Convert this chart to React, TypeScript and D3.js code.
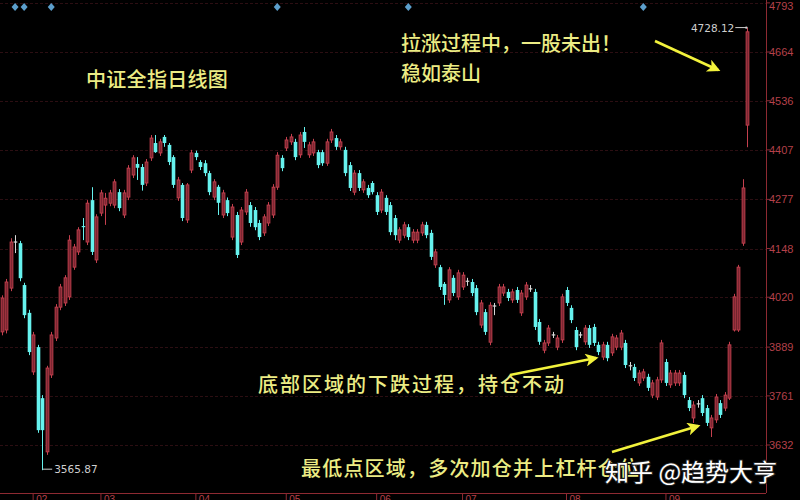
import * as d3 from "d3";

// daily OHLC, one entry per trading day
const opens = [
  3929, 3934, 4044, 4165, 4162, 4052, 3979, 3824, 3889, 3755,
  3614, 3816, 3913, 3994, 4005, 4021, 4099, 4139, 4207, 4165,
  4275, 4118, 4241, 4262, 4267, 4262, 4296, 4236, 4283, 4341,
  4370, 4362, 4320, 4386, 4425, 4399, 4441, 4420, 4388, 4281,
  4315, 4223, 4354, 4399, 4375, 4372, 4346, 4283, 4310, 4236,
  4275, 4178, 4236, 4165, 4244, 4262, 4249, 4215, 4189, 4215,
  4236, 4309, 4386, 4412, 4428, 4428, 4394, 4454, 4394, 4399,
  4401, 4401, 4372, 4433, 4438, 4415, 4407, 4367, 4296, 4346,
  4302, 4307, 4320, 4288, 4249, 4281, 4262, 4228, 4170, 4183,
  4204, 4170, 4170, 4189, 4210, 4189, 4105, 4099, 4055, 4013,
  4071, 4021, 4047, 4062, 4060, 4044, 3947, 3981, 3902, 3997,
  4005, 4031, 4034, 4013, 4039, 3979, 4021, 4042, 4034, 3955,
  3881, 3900, 3921, 3889, 3908, 4039, 3992, 3934, 3921, 3903,
  3939, 3942, 3895, 3863, 3895, 3874, 3889, 3889, 3900, 3840,
  3837, 3795, 3808, 3811, 3763, 3758, 3803, 3850, 3790, 3795,
  3795, 3816, 3750, 3703, 3740, 3755, 3729, 3677, 3698, 3742,
  3729, 3755, 3934, 3934, 4162, 4472,
];
const highs = [
  4025, 4068, 4175, 4183, 4168, 4058, 3987, 3929, 3895, 3763,
  3840, 3929, 4002, 4055, 4078, 4183, 4160, 4204, 4228, 4275,
  4309, 4238, 4302, 4294, 4302, 4330, 4304, 4302, 4367, 4393,
  4388, 4370, 4383, 4446, 4446, 4436, 4446, 4425, 4393, 4336,
  4320, 4320, 4407, 4405, 4380, 4380, 4352, 4330, 4315, 4302,
  4282, 4265, 4244, 4257, 4304, 4270, 4257, 4223, 4238, 4270,
  4317, 4401, 4393, 4441, 4449, 4436, 4454, 4467, 4428, 4436,
  4407, 4407, 4436, 4462, 4446, 4436, 4415, 4375, 4354, 4354,
  4330, 4315, 4325, 4296, 4304, 4288, 4270, 4236, 4204, 4218,
  4212, 4199, 4199, 4218, 4218, 4197, 4147, 4105, 4060, 4099,
  4078, 4092, 4086, 4071, 4068, 4052, 4013, 3989, 4007, 4005,
  4055, 4055, 4042, 4042, 4047, 4039, 4060, 4052, 4042, 3963,
  3908, 3947, 3929, 3921, 4029, 4047, 3999, 3942, 3929, 3947,
  3947, 3950, 3903, 3903, 3903, 3924, 3921, 3934, 3908, 3850,
  3845, 3829, 3832, 3819, 3803, 3811, 3908, 3858, 3829, 3829,
  3829, 3824, 3758, 3747, 3750, 3763, 3737, 3711, 3766, 3750,
  3771, 3903, 4029, 4105, 4330, 4728.12,
];
const lows = [
  3920, 3925, 4036, 4136, 4062, 3965, 3868, 3816, 3664, 3565.87,
  3606, 3808, 3905, 3986, 3997, 4013, 4092, 4131, 4170, 4157,
  4131, 4110, 4233, 4210, 4259, 4254, 4246, 4228, 4275, 4333,
  4328, 4300, 4312, 4378, 4399, 4391, 4415, 4367, 4307, 4273,
  4220, 4215, 4346, 4380, 4354, 4338, 4288, 4275, 4236, 4228,
  4233, 4170, 4123, 4157, 4236, 4205, 4196, 4170, 4181, 4207,
  4228, 4302, 4351, 4404, 4420, 4380, 4386, 4412, 4386, 4391,
  4359, 4365, 4365, 4425, 4407, 4407, 4338, 4299, 4288, 4299,
  4294, 4281, 4290, 4236, 4241, 4236, 4183, 4170, 4162, 4175,
  4170, 4162, 4162, 4181, 4175, 4118, 4097, 4039, 4000, 4005,
  4023, 4013, 4039, 4050, 4023, 3973, 3939, 3921, 3894, 3973,
  3997, 4023, 4010, 4005, 4005, 3971, 4013, 4034, 3934, 3895,
  3873, 3892, 3913, 3881, 3900, 3997, 3952, 3881, 3913, 3895,
  3887, 3892, 3868, 3855, 3852, 3866, 3881, 3881, 3834, 3828,
  3800, 3787, 3800, 3774, 3755, 3750, 3795, 3787, 3782, 3787,
  3787, 3755, 3721, 3690, 3730, 3708, 3682, 3653, 3690, 3703,
  3721, 3750, 3930, 3929, 4155, 4414,
];
const closes = [
  4018, 4060, 4165, 4165, 4070, 3973, 3876, 3921, 3671, 3671,
  3834, 3921, 3994, 4047, 4071, 4170, 4152, 4197, 4204, 4267,
  4139, 4231, 4294, 4280, 4294, 4323, 4254, 4294, 4359, 4386,
  4360, 4315, 4375, 4438, 4401, 4428, 4425, 4375, 4315, 4328,
  4228, 4315, 4399, 4388, 4362, 4346, 4296, 4323, 4268, 4294,
  4241, 4257, 4131, 4249, 4296, 4215, 4204, 4178, 4231, 4262,
  4309, 4393, 4359, 4433, 4441, 4388, 4446, 4428, 4420, 4428,
  4367, 4372, 4428, 4454, 4415, 4428, 4346, 4307, 4346, 4307,
  4323, 4288, 4296, 4244, 4296, 4244, 4191, 4183, 4197, 4210,
  4178, 4191, 4191, 4210, 4183, 4126, 4139, 4047, 4026, 4092,
  4031, 4084, 4078, 4062, 4031, 3981, 4005, 3929, 3999, 3997,
  4047, 4047, 4018, 4034, 4013, 4031, 4052, 4042, 3942, 3903,
  3900, 3939, 3921, 3913, 4021, 4005, 3960, 3889, 3921, 3939,
  3895, 3900, 3876, 3895, 3860, 3916, 3913, 3926, 3842, 3840,
  3808, 3821, 3824, 3782, 3795, 3803, 3900, 3795, 3821, 3821,
  3821, 3763, 3729, 3737, 3740, 3716, 3690, 3703, 3758, 3711,
  3763, 3895, 4021, 4099, 4307, 4717,
];

const priceTicks = [4793, 4664, 4536, 4407, 4277, 4148, 4020, 3889, 3761, 3632];
const monthLabels = ["02", "03", "04", "05", "06", "07", "08", "09"];
const monthStarts = [7, 22, 43, 63, 83, 102, 125, 147];
const markerDays = [3, 5, 11, 61, 90, 142];

const RED = "#c4404e";
const RED_FILL = "#7c2632";
const CYAN = "#66f2ee";
const DOJI = "#d8d8d8";
const YELLOW = "#ecec84";
const ARROW = "#f2f23c";

const x = d3.scaleLinear().domain([0, opens.length - 1]).range([1.5, 747.3]);
const y = d3.scaleLinear().domain([3632, 4664]).range([445, 52]);

const AXIS_X = 766;
const AXIS_Y = 493;
const cjk = '"Noto Sans CJK SC", "Noto Sans", sans-serif';

function Arrow({ x1, y1, x2, y2 }: { x1: number; y1: number; x2: number; y2: number }) {
  return (
    <line
      x1={x1}
      y1={y1}
      x2={x2}
      y2={y2}
      stroke={ARROW}
      strokeWidth={2.6}
      markerEnd="url(#arrow-head)"
    />
  );
}

export default function App() {
  const candles = opens.map((o, i) => ({
    o,
    h: highs[i],
    l: lows[i],
    c: closes[i],
  }));
  const last = candles.length - 1;
  const lowIdx = d3.minIndex(lows);

  return (
    <div style={{ position: "fixed", left: 0, top: 0, width: 800, height: 500, background: "#000" }}>
      <svg width={800} height={500} viewBox="0 0 800 500" style={{ display: "block" }}>
        <defs>
          <marker
            id="arrow-head"
            viewBox="0 0 10 10"
            refX="8"
            refY="5"
            markerWidth="6"
            markerHeight="5"
            orient="auto"
            markerUnits="strokeWidth"
          >
            <path d="M0,0 L10,5 L0,10 L2.5,5 Z" fill={ARROW} />
          </marker>
        </defs>
        <rect width={800} height={500} fill="#000" />

        {/* horizontal grid */}
        {priceTicks.map((p) => (
          <line
            key={p}
            x1={0}
            x2={AXIS_X}
            y1={Math.round(y(p)) + 0.5}
            y2={Math.round(y(p)) + 0.5}
            stroke="#2c0e12"
            strokeWidth={1}
            strokeDasharray="3,2"
          />
        ))}

        {/* event markers */}
        {markerDays.map((d) => (
          <path
            key={d}
            d={`M${x(d)},3 L${x(d) + 3.5},7 L${x(d)},11 L${x(d) - 3.5},7 Z`}
            fill="#5c9fcc"
          />
        ))}

        {/* candles */}
        {candles.map((k, i) => {
          const cx = Math.round(x(i)) + 0.5;
          const up = k.c > k.o;
          const flat = k.c === k.o;
          const col = flat ? DOJI : up ? RED : CYAN;
          const top = y(Math.max(k.o, k.c));
          const bot = y(Math.min(k.o, k.c));
          return (
            <g key={i}>
              <line x1={cx} x2={cx} y1={y(k.h)} y2={y(k.l)} stroke={col} strokeWidth={1} />
              {flat ? (
                <line x1={cx - 1.8} x2={cx + 1.8} y1={top} y2={top} stroke={col} strokeWidth={1.2} />
              ) : up ? (
                <rect
                  x={cx - 1.4}
                  y={top}
                  width={2.8}
                  height={Math.max(1, bot - top)}
                  fill={RED_FILL}
                  stroke={RED}
                  strokeWidth={0.9}
                />
              ) : (
                <rect x={cx - 1.8} y={top} width={3.6} height={Math.max(1, bot - top)} fill={CYAN} />
              )}
            </g>
          );
        })}

        {/* high / low labels */}
        <g fill="#cfcfcf" fontFamily='"DejaVu Sans", sans-serif' fontSize={10.5}>
          <line
            x1={x(last) - 12}
            x2={x(last) - 1}
            y1={y(highs[last])}
            y2={y(highs[last])}
            stroke="#cfcfcf"
          />
          <circle cx={x(last) - 1} cy={y(highs[last])} r={1.2} />
          <text x={x(last) - 13} y={y(highs[last]) + 4} textAnchor="end">
            {highs[last].toFixed(2)}
          </text>
          <line
            x1={x(lowIdx) + 0.5}
            x2={x(lowIdx) + 10}
            y1={y(lows[lowIdx]) - 1}
            y2={y(lows[lowIdx]) - 1}
            stroke="#cfcfcf"
          />
          <text x={x(lowIdx) + 12} y={y(lows[lowIdx]) + 3}>
            {lows[lowIdx].toFixed(2)}
          </text>
        </g>

        {/* right price axis */}
        <line x1={AXIS_X + 0.5} x2={AXIS_X + 0.5} y1={0} y2={AXIS_Y} stroke="#8e2a32" strokeWidth={1} />
        {priceTicks.map((p) => (
          <g key={p}>
            <line x1={AXIS_X} x2={AXIS_X + 4} y1={y(p)} y2={y(p)} stroke="#8e2a32" />
            <text
              x={AXIS_X + 3}
              y={Math.max(y(p) + 4, 10)}
              fill="#b4404a"
              fontFamily='"Liberation Sans", Arial, sans-serif'
              fontSize={11}
            >
              {p}
            </text>
          </g>
        ))}

        {/* bottom month axis */}
        <line x1={0} x2={AXIS_X} y1={AXIS_Y + 0.5} y2={AXIS_Y + 0.5} stroke="#8e2a32" strokeWidth={1} />
        {monthStarts.map((d, i) => (
          <g key={d}>
            <line x1={x(d)} x2={x(d)} y1={AXIS_Y} y2={500} stroke="#8e2a32" />
            <text
              x={x(d) + 3}
              y={503}
              fill="#b4404a"
              fontFamily='"Liberation Sans", Arial, sans-serif'
              fontSize={10}
            >
              {monthLabels[i]}
            </text>
          </g>
        ))}

        {/* annotations */}
        <g fill={YELLOW} fontFamily={cjk} fontSize={20} fontWeight={500}>
          <text x={86} y={87} letterSpacing={0.3}>中证全指日线图</text>
          <text x={401} y={51}>拉涨过程中，一股未出！</text>
          <text x={401} y={81}>稳如泰山</text>
          <text x={258} y={392} letterSpacing={2}>底部区域的下跌过程，持仓不动</text>
          <text x={301} y={476} letterSpacing={1.2}>最低点区域，多次加仓并上杠杆仓位</text>
        </g>
        <Arrow x1={655} y1={41} x2={718} y2={70} />
        <Arrow x1={510} y1={375} x2={596} y2={358} />
        <Arrow x1={612} y1={452} x2={698} y2={426} />

        {/* watermark */}
        <text
          x={605}
          y={481}
          fill="#ffffff"
          fontFamily={cjk}
          fontSize={24}
          style={{ paintOrder: "stroke" }}
          stroke="#222"
          strokeWidth={2}
        >
          知乎 @趋势大亨
        </text>
      </svg>
    </div>
  );
}
